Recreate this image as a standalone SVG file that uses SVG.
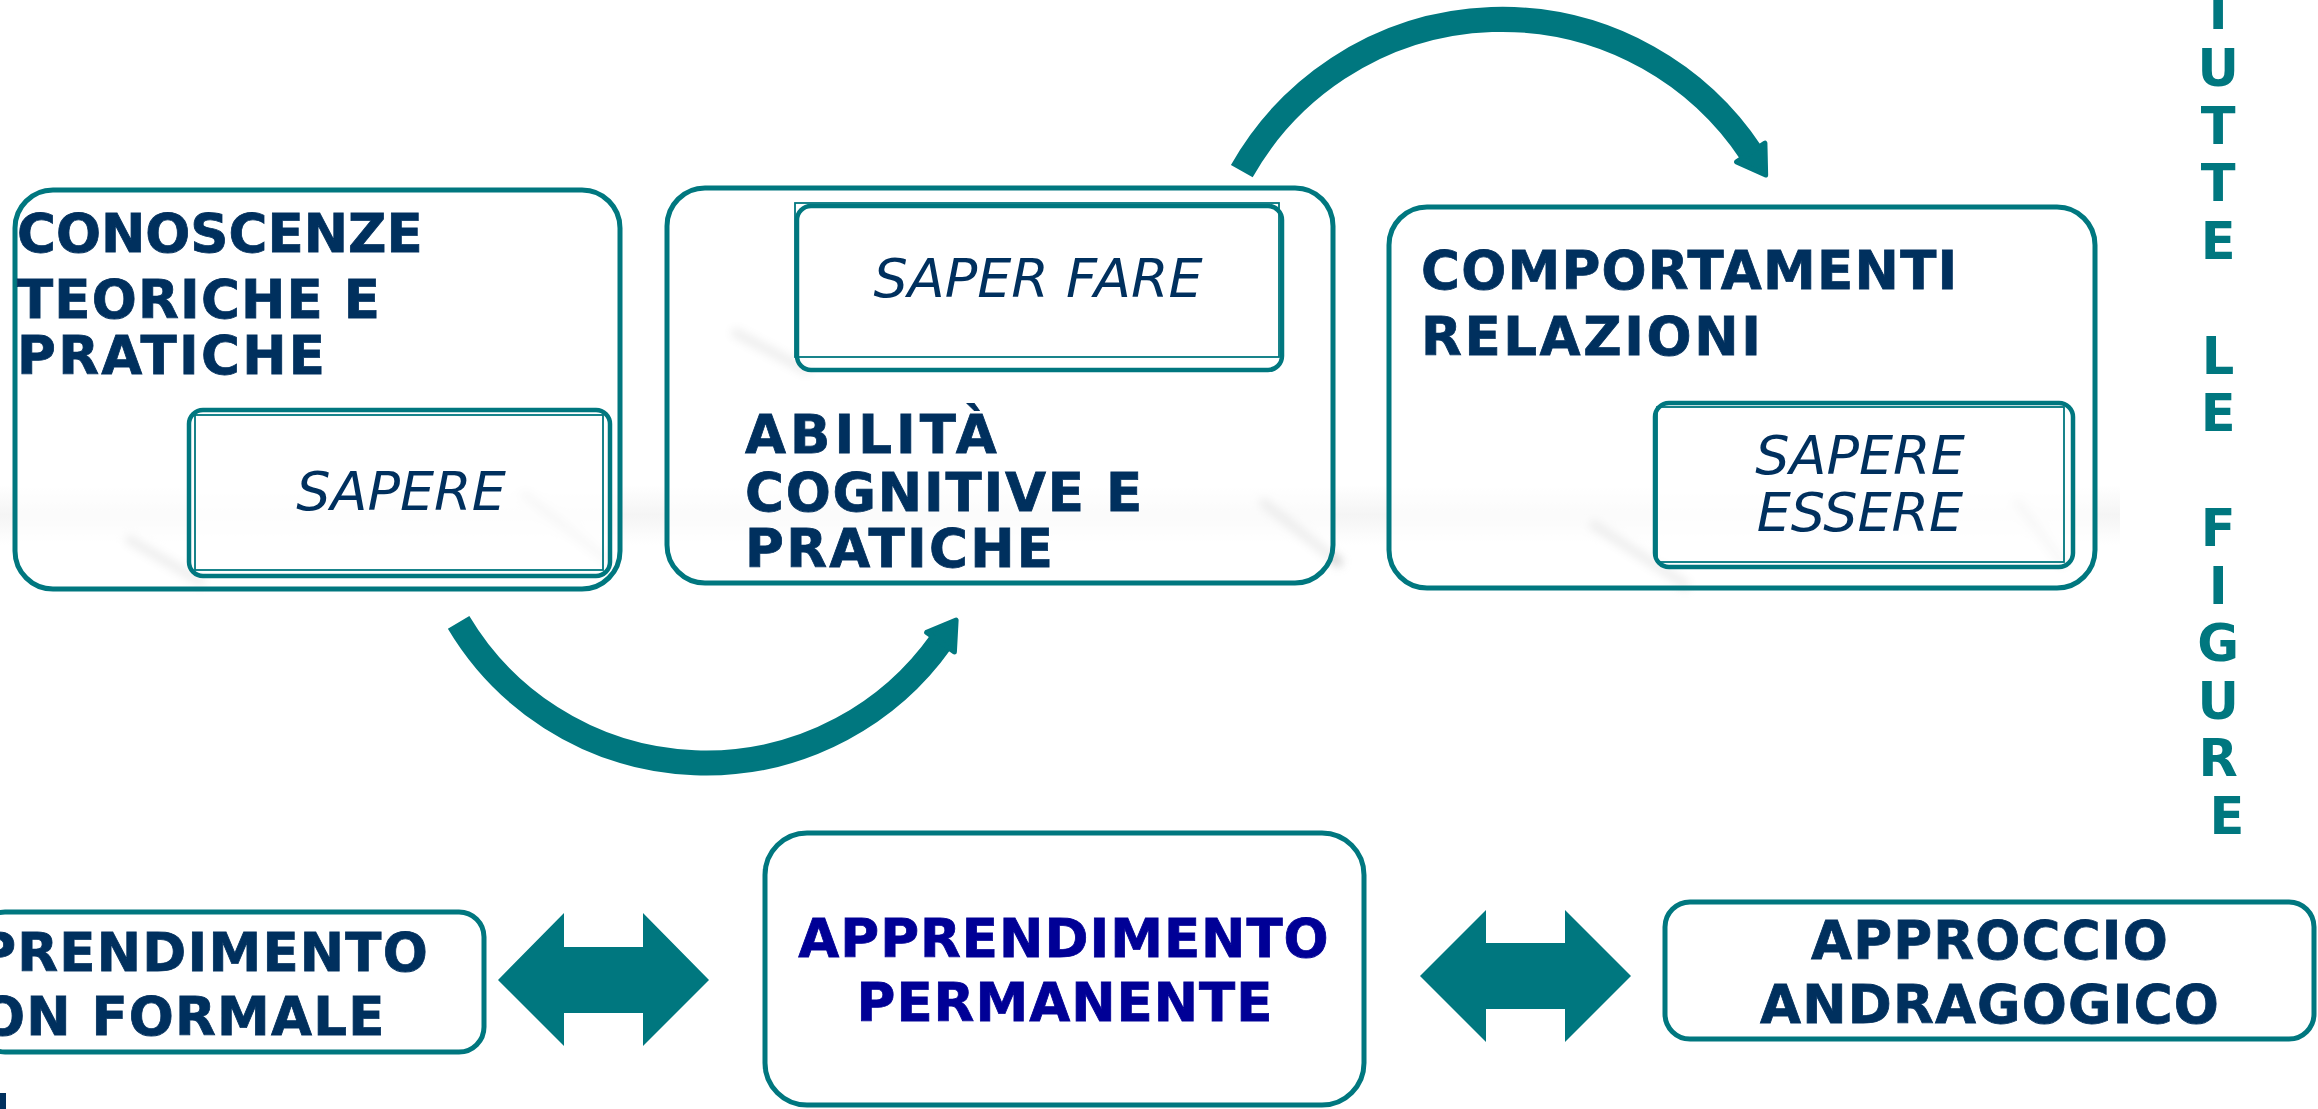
<svg xmlns="http://www.w3.org/2000/svg" width="2318" height="1109" viewBox="0 0 2318 1109">
<style>
.box{fill:#ffffff;fill-opacity:0.6;stroke:#00777f;stroke-width:5}
.inner{fill:#ffffff;fill-opacity:0.6;stroke:#00777f;stroke-width:4.5}
.thin{fill:none;stroke:#00777f;stroke-width:1.8}
.t{font-family:"DejaVu Sans",Verdana,sans-serif;font-weight:bold;font-size:53px;fill:#00305e;stroke:#00305e;stroke-width:0.8}
.tb{font-family:"DejaVu Sans",Verdana,sans-serif;font-weight:bold;font-size:53px;fill:#000096;stroke:#000096;stroke-width:0.8;letter-spacing:1px}
.c{letter-spacing:1.2px}
.it{font-family:"DejaVu Sans",Verdana,sans-serif;font-style:italic;font-size:54px;fill:#00305e}
.v{font-family:"DejaVu Sans",Verdana,sans-serif;font-weight:bold;font-size:51px;fill:#00777f}
.arc{fill:none;stroke:#00777f;stroke-width:25;marker-end:url(#head)}
.blk{fill:#00777f}
.streak{stroke:#b8b8b8;stroke-width:10;stroke-linecap:round;fill:none;opacity:0.55;filter:url(#blur)}
</style>
<defs>
<marker id="head" markerUnits="userSpaceOnUse" orient="auto" refX="0" refY="0" markerWidth="60" markerHeight="60" viewBox="-10 -30 50 60" overflow="visible">
<path d="M-1,-17 L26,0 L-1,17 Z" fill="#00777f" stroke="#00777f" stroke-width="5" stroke-linejoin="round"/>
</marker>
<filter id="blur" x="-50%" y="-50%" width="200%" height="200%"><feGaussianBlur stdDeviation="4"/></filter>
<linearGradient id="band" x1="0" y1="0" x2="0" y2="1">
<stop offset="0" stop-color="#dcdcdc" stop-opacity="0"/>
<stop offset="0.5" stop-color="#dcdcdc" stop-opacity="0.3"/>
<stop offset="1" stop-color="#dcdcdc" stop-opacity="0"/>
</linearGradient>
</defs>
<rect width="2318" height="1109" fill="#ffffff"/>

<g id="reflection">
<rect x="0" y="485" width="2120" height="60" fill="url(#band)"/>
<path class="streak" d="M130,540 L200,581"/>
<path class="streak" d="M525,495 L606,559"/>
<path class="streak" d="M736,333 L806,370"/>
<path class="streak" d="M1264,503 L1338,562"/>
<path class="streak" d="M1594,525 L1685,584"/>
<path class="streak" d="M2018,503 L2062,562"/>
</g>

<g id="conoscenze">
<rect class="box" x="15" y="190" width="605" height="399" rx="38"/>
<text class="t" x="17" y="252">CONOSCENZE</text>
<text class="t" x="17" y="318" style="letter-spacing:1.2px">TEORICHE E</text>
<text class="t" x="17" y="374" style="letter-spacing:2.3px">PRATICHE</text>
</g>
<g id="sapere">
<rect class="inner" x="189" y="410" width="421" height="166" rx="14"/>
<rect class="thin" x="195" y="415" width="408" height="155"/>
<text class="it" x="401" y="510" text-anchor="middle">SAPERE</text>
</g>

<g id="abilita">
<rect class="box" x="667" y="188" width="666" height="395" rx="38"/>
<text class="t" x="745" y="453" style="letter-spacing:4px">ABILITÀ</text>
<text class="t" x="745" y="511" style="letter-spacing:1.8px">COGNITIVE E</text>
<text class="t" x="745" y="567" style="letter-spacing:2.3px">PRATICHE</text>
</g>
<g id="saper-fare">
<rect class="inner" x="797" y="206" width="485" height="164" rx="14"/>
<rect class="thin" x="795" y="203" width="484" height="154"/>
<text class="it" x="1038" y="297" text-anchor="middle">SAPER FARE</text>
</g>

<g id="comportamenti">
<rect class="box" x="1389" y="207" width="706" height="381" rx="38"/>
<text class="t" x="1421" y="289" style="letter-spacing:1.25px">COMPORTAMENTI</text>
<text class="t" x="1421" y="355" style="letter-spacing:2.6px">RELAZIONI</text>
</g>
<g id="sapere-essere">
<rect class="inner" x="1655" y="403" width="418" height="164" rx="14"/>
<rect class="thin" x="1657" y="407" width="407" height="155"/>
<text class="it" x="1860" y="474" text-anchor="middle">SAPERE</text>
<text class="it" x="1860" y="531" text-anchor="middle">ESSERE</text>
</g>

<g id="non-formale">
<rect class="box" x="-20" y="912" width="504" height="140" rx="25"/>
<text class="t c" x="162" y="971" text-anchor="middle">APPRENDIMENTO</text>
<text class="t c" x="160" y="1035" text-anchor="middle">NON FORMALE</text>
</g>
<g id="permanente">
<rect class="box" x="765" y="833" width="599" height="272" rx="42"/>
<text class="tb" x="1064" y="957" text-anchor="middle">APPRENDIMENTO</text>
<text class="tb" x="1065" y="1021" text-anchor="middle">PERMANENTE</text>
</g>
<g id="andragogico">
<rect class="box" x="1665" y="902" width="649" height="137" rx="25"/>
<text class="t c" x="1990" y="959" text-anchor="middle">APPROCCIO</text>
<text class="t c" x="1990" y="1023" text-anchor="middle">ANDRAGOGICO</text>
</g>

<g id="vertical-label">
<text class="v" text-anchor="middle">
<tspan x="2227" y="28.5">T</tspan>
<tspan x="2227" y="86">U</tspan>
<tspan x="2227" y="143.5">T</tspan>
<tspan x="2227" y="201">T</tspan>
<tspan x="2227" y="258.5">E</tspan>
<tspan x="2227" y="373.5">L</tspan>
<tspan x="2227" y="431">E</tspan>
<tspan x="2227" y="546">F</tspan>
<tspan x="2227" y="603.5">I</tspan>
<tspan x="2227" y="661">G</tspan>
<tspan x="2227" y="718.5">U</tspan>
<tspan x="2227" y="776">R</tspan>
<tspan x="2227" y="833.5">E</tspan>
</text>
</g>

<g id="fragment">
<rect x="0" y="1093" width="6" height="16" fill="#00305e"/>
</g>

<g id="connectors">
<path class="arc" d="M458.6,622.4 A288,288 0 0 0 941.1,641.4"/>
<path class="arc" d="M1241.8,171.1 A299,299 0 0 1 1751.3,153.3"/>
<polygon class="blk" points="498,980 564,913 564,947 643,947 643,913 709,980 643,1046 643,1013 564,1013 564,1046"/>
<polygon class="blk" points="1420,976 1486,910 1486,943 1565,943 1565,910 1631,976 1565,1042 1565,1009 1486,1009 1486,1042"/>
</g>
</svg>
